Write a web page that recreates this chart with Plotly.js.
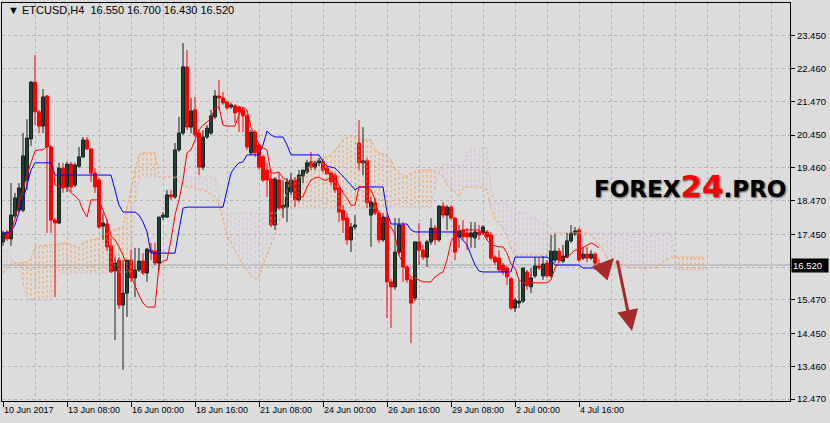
<!DOCTYPE html>
<html><head><meta charset="utf-8">
<script src="https://cdn.plot.ly/plotly-3.0.1.min.js"></script>
<style>html,body{margin:0;padding:0;background:#dcdcdc;}#chart{width:830px;height:423px;}</style>
</head><body><div id="chart"></div>
<script>
const symbol = 'ETCUSD,H4';
const tickIdx = [0,16,32,48,64,80,96,112,128,144];
const tickLabels = ['10 Jun 2017','13 Jun 08:00','16 Jun 00:00','18 Jun 16:00','21 Jun 08:00','24 Jun 00:00','26 Jun 16:00','29 Jun 08:00','2 Jul 00:00','4 Jul 16:00'];
const priceTicks = [23.45,22.46,21.47,20.45,19.46,18.47,17.45,16.46,15.47,14.45,13.46,12.47];
const priceTickText = ['23.450','22.460','21.470','20.450','19.460','18.470','17.450','','15.470','14.450','13.460','12.470'];

const openP = [17.22,17.52,17.31,18.00,18.18,18.18,19.09,20.33,22.05,21.15,
20.72,21.63,20.09,17.88,17.79,19.45,18.88,19.57,18.94,19.51,
19.79,20.30,20.03,19.30,19.09,17.70,17.76,17.10,16.34,16.67,
15.31,15.67,16.67,16.13,16.37,16.64,16.28,16.97,16.94,16.58,
17.97,17.97,18.64,18.58,20.00,20.51,22.51,20.69,21.21,20.51,
19.48,20.39,20.51,21.00,21.63,21.57,21.45,21.30,21.33,21.30,
21.21,21.03,19.91,20.54,20.15,19.79,19.39,19.12,17.73,19.09,
18.24,18.27,18.73,19.09,18.49,19.21,19.33,19.64,19.48,19.61,
19.64,19.45,19.30,19.24,18.85,18.18,17.94,17.28,17.67,20.21,
19.61,19.67,18.03,18.40,18.09,17.28,17.97,16.01,15.86,16.91,
17.73,16.46,16.07,15.52,17.22,16.97,16.76,17.22,17.64,17.28,
18.30,18.03,18.27,17.94,17.37,17.58,17.49,17.37,17.34,17.52,
17.49,17.52,17.43,16.76,16.73,16.52,16.43,16.10,15.22,15.37,
15.43,16.31,15.86,16.19,16.49,16.19,16.58,16.19,16.67,16.94,
16.64,16.76,17.25,17.46,17.58,16.73,16.85,16.73,16.85,16.55];
const highP = [17.55,17.58,19.00,18.70,19.00,20.51,20.93,22.08,22.87,21.21,
21.84,21.66,20.12,17.94,19.61,19.61,19.64,19.64,19.61,20.09,
20.39,20.39,20.06,19.45,19.15,18.09,17.88,17.34,16.76,16.76,
16.67,16.67,16.97,17.04,17.04,16.88,17.04,17.19,17.19,17.97,
18.12,18.79,18.79,20.21,21.00,23.23,23.02,21.57,21.60,20.60,
20.60,20.75,21.21,21.81,22.11,21.75,21.48,21.42,21.39,21.33,
21.27,21.09,20.60,20.60,20.21,19.85,19.61,19.33,19.18,19.33,
19.09,19.15,19.30,19.18,19.39,19.39,19.70,19.94,19.67,19.76,
19.73,19.51,19.36,19.30,18.91,18.33,18.09,17.79,18.03,20.90,
20.69,19.76,18.58,18.55,18.18,18.09,18.09,16.10,17.94,17.94,
17.82,16.52,16.13,17.22,17.79,17.13,17.28,17.94,17.73,18.33,
18.43,18.33,18.33,17.97,17.73,17.88,17.64,17.82,17.82,17.73,
17.73,17.58,17.52,16.82,16.97,16.58,16.49,16.16,15.52,16.07,
16.43,16.37,16.43,16.76,16.76,16.79,16.67,17.43,17.46,17.04,
17.13,17.49,17.73,17.67,17.64,17.07,17.07,16.97,16.91,16.70];
const lowP = [17.10,17.25,17.10,17.94,18.12,18.12,18.79,20.12,20.75,20.51,
20.51,17.49,17.49,15.55,17.76,18.70,18.73,18.73,18.88,19.45,
19.76,20.00,19.03,18.70,17.61,17.28,16.94,16.28,14.25,15.19,
13.35,14.95,16.01,15.55,16.31,16.22,16.01,16.67,16.52,16.37,
17.88,17.94,18.49,18.52,19.94,20.45,20.60,20.51,20.39,19.24,
19.39,20.33,20.45,20.93,21.21,21.36,21.21,21.24,20.81,20.54,
20.54,20.00,19.85,19.79,19.39,19.03,18.58,17.67,17.58,18.18,
17.94,17.82,18.64,18.27,18.43,19.00,19.27,19.39,19.39,19.51,
19.33,19.27,18.94,18.70,17.82,17.49,17.13,16.91,17.58,19.39,
19.24,18.24,17.07,18.03,17.19,17.22,14.92,14.62,15.77,16.82,
16.01,15.98,14.16,15.43,16.52,16.67,16.46,17.13,17.13,17.22,
17.94,17.58,17.88,16.67,17.04,17.28,16.97,17.04,17.04,17.28,
17.43,17.28,16.67,16.52,16.31,16.22,15.92,15.16,15.10,15.22,
15.37,15.77,15.67,16.13,16.37,16.07,16.13,16.13,16.58,16.61,
16.58,16.73,17.19,17.40,16.61,16.67,16.61,16.67,16.37,16.43];
const closeP = [17.49,17.31,18.03,18.55,18.85,19.82,20.36,22.05,21.15,20.72,
21.60,20.09,17.88,17.79,19.45,18.85,19.57,18.88,19.54,19.79,
20.30,20.03,19.30,18.88,17.67,17.79,17.07,16.31,16.58,15.31,
15.67,16.67,16.13,16.37,16.64,16.28,17.00,16.91,16.58,17.97,
18.03,18.64,18.58,20.00,20.51,22.51,20.69,21.18,20.45,19.48,
20.39,20.66,21.03,21.63,21.57,21.42,21.27,21.36,21.12,21.15,
21.03,20.09,20.54,19.91,19.48,19.09,19.09,17.73,19.12,18.24,
18.33,19.03,19.09,18.49,19.24,19.39,19.61,19.48,19.61,19.67,
19.39,19.27,19.03,18.79,18.12,17.88,17.28,17.67,17.73,19.61,
19.67,18.40,18.43,18.09,17.28,17.97,16.01,15.86,16.91,17.73,
16.46,16.07,15.37,17.22,16.97,16.76,17.22,17.64,17.28,18.30,
18.03,18.27,17.94,16.91,17.55,17.37,17.37,17.49,17.52,17.43,
17.67,17.37,16.73,16.61,16.37,16.31,16.16,15.22,15.46,15.43,
16.43,15.89,16.13,16.49,16.43,16.55,16.19,16.94,16.94,16.67,
16.79,17.25,17.49,17.55,16.67,16.85,16.73,16.85,16.58,16.52];

const tenkan = [17.40,17.40,17.49,17.94,18.40,18.79,19.24,19.61,19.97,20.00,
20.00,20.12,20.12,18.94,18.91,18.88,18.88,18.70,18.61,18.49,
18.18,17.97,18.49,18.49,18.49,18.18,17.88,17.40,17.28,17.07,
16.82,16.46,16.16,15.92,15.61,15.37,15.25,15.25,15.25,16.52,
16.64,16.67,17.28,18.03,18.49,19.09,19.91,20.00,20.30,20.60,
20.75,20.84,20.97,21.27,21.30,20.75,20.72,20.72,20.72,21.06,
21.30,21.21,20.69,20.45,20.15,20.06,20.00,19.30,19.30,19.33,
19.15,19.09,18.94,18.94,18.58,18.58,18.88,19.09,19.15,19.18,
19.09,19.09,19.18,19.18,18.94,18.70,18.55,18.33,18.33,18.88,
18.88,18.88,18.79,18.49,18.03,17.88,17.73,17.67,17.43,16.82,
16.58,16.31,16.16,16.13,16.07,16.01,16.01,16.01,16.16,16.25,
16.31,16.67,17.22,17.43,17.55,17.58,17.58,17.58,17.58,17.58,
17.49,17.28,17.13,17.10,17.07,17.07,16.88,16.55,16.43,16.07,
15.98,15.98,15.98,15.98,15.98,15.98,15.98,16.07,16.43,16.61,
16.73,16.76,16.88,16.97,16.97,17.04,17.10,17.19,17.13,17.04];
const kijun = [17.49,17.49,17.55,17.73,18.12,18.49,18.94,19.39,19.61,19.61,
19.61,19.61,19.61,19.24,19.24,19.24,19.24,19.24,19.24,19.24,
19.24,19.24,19.24,19.24,19.24,19.24,19.24,19.24,18.79,18.33,
18.12,18.12,18.12,18.12,18.03,17.82,17.52,16.88,16.88,16.88,
16.88,16.88,16.88,16.88,17.58,18.24,18.27,18.27,18.27,18.27,
18.27,18.27,18.27,18.27,18.27,18.27,18.79,19.30,19.48,19.61,
19.64,19.85,19.85,19.85,19.85,20.15,20.57,20.45,20.39,20.39,
20.39,20.15,19.85,19.85,19.85,19.85,19.85,19.85,19.85,19.85,
19.64,19.51,19.48,19.45,19.33,19.21,19.09,18.94,18.79,18.88,
18.88,18.88,18.88,18.88,18.88,18.88,18.12,17.76,17.76,17.76,
17.76,17.76,17.58,17.52,17.52,17.52,17.52,17.52,17.52,17.52,
17.52,17.52,17.52,17.52,17.40,17.28,17.13,16.82,16.52,16.34,
16.31,16.31,16.31,16.31,16.31,16.31,16.31,16.31,16.76,16.76,
16.76,16.76,16.76,16.76,16.76,16.76,16.76,16.67,16.52,16.52,
16.52,16.52,16.52,16.52,16.52,16.43,16.43,16.43,16.43,16.43];
const spanA = [16.28,16.43,16.55,16.58,16.58,16.61,16.61,16.73,17.07,17.10,
17.10,17.13,17.13,17.13,17.16,17.19,17.19,17.13,17.10,17.04,
17.19,17.25,17.28,17.31,17.34,17.40,17.49,17.55,17.61,17.64,
17.67,18.27,18.79,19.39,19.85,19.91,19.91,19.91,19.91,19.18,
19.18,19.18,19.18,19.15,19.03,18.94,18.88,18.88,18.85,18.79,
18.79,18.73,18.64,18.58,18.33,17.88,17.43,17.19,16.97,16.76,
16.52,16.37,16.19,16.10,16.13,16.52,16.82,17.13,17.43,17.82,
18.27,18.79,19.09,19.15,19.18,19.18,19.39,19.57,19.67,19.73,
19.79,19.79,19.85,20.00,20.15,20.30,20.39,20.45,20.39,20.33,
20.30,20.30,20.30,20.00,19.91,19.88,19.85,19.70,19.45,19.33,
19.21,19.21,19.30,19.36,19.39,19.39,19.39,19.39,19.36,19.30,
19.21,18.94,18.85,18.73,18.58,18.85,18.88,18.88,18.88,18.88,
18.85,18.79,18.27,17.88,17.79,17.64,17.37,17.04,16.82,16.82,
16.82,16.82,16.82,16.82,16.82,16.82,16.82,17.28,17.49,17.49,
17.49,17.49,17.49,17.49,17.49,17.49,17.49,17.43,17.28,17.13,
16.97,16.73,16.61,16.58,16.55,16.52,16.49,16.43,16.43,16.43,
16.43,16.43,16.43,16.43,16.49,16.61,16.67,16.73,16.76,16.76,
16.76,16.76,16.76,16.76,16.76,16.76];
const spanB = [16.97,16.97,16.73,16.52,16.49,15.92,15.55,15.46,15.46,15.46,
15.46,15.46,15.46,15.92,16.25,16.28,16.28,16.28,16.28,16.28,
16.28,16.28,16.28,16.28,16.28,16.28,16.28,16.31,16.31,16.31,
16.31,16.31,16.31,18.49,19.09,19.18,19.18,19.18,19.18,19.18,
19.18,19.18,19.18,19.18,19.18,19.18,19.18,19.18,19.18,19.18,
19.18,19.18,19.18,19.18,18.64,18.09,18.09,18.09,18.09,18.09,
18.09,18.09,18.09,18.09,18.09,18.09,18.09,18.09,18.09,18.12,
18.24,18.24,18.24,18.24,18.24,18.24,18.24,18.24,18.24,18.24,
18.24,18.24,18.24,18.24,18.24,18.24,18.24,18.24,18.24,18.24,
18.24,18.24,18.24,18.24,18.27,18.27,18.27,18.27,18.27,18.27,
18.27,18.27,18.27,18.27,18.27,18.27,18.27,18.27,18.79,19.39,
19.54,19.54,19.54,19.54,19.54,19.54,19.85,20.06,20.06,20.06,
20.06,20.06,18.79,18.40,18.40,18.40,18.40,18.24,18.12,18.12,
18.12,18.12,17.97,17.97,17.79,17.79,17.79,17.64,17.49,17.49,
17.49,17.49,17.49,17.49,17.49,17.49,17.49,17.49,17.49,17.49,
17.49,17.49,17.49,17.49,17.49,17.49,17.49,17.49,17.49,17.49,
17.49,17.49,17.49,17.49,17.49,17.49,17.49,17.49,16.61,16.37,
16.37,16.37,16.37,16.37,16.37,16.37];

// ---- build traces ----
const n = closeP.length;
const idx = closeP.map((_, i) => i);
const spanIdx = spanA.map((_, i) => i);

const upX = [], upY = [], dnX = [], dnY = [];
spanIdx.forEach(i => {
  if (spanA[i] >= spanB[i]) { upX.push(i, i, null); upY.push(spanA[i], spanB[i], null); }
  else { dnX.push(i, i, null); dnY.push(spanA[i], spanB[i], null); }
});
const bullWx = [], bullWy = [], bearWx = [], bearWy = [];
idx.forEach(i => {
  if (closeP[i] >= openP[i]) { bullWx.push(i, i, null); bullWy.push(lowP[i], highP[i], null); }
  else { bearWx.push(i, i, null); bearWy.push(lowP[i], highP[i], null); }
});
const bodyBase = idx.map(i => Math.min(openP[i], closeP[i]));
const bodyH = idx.map(i => Math.max(Math.abs(closeP[i] - openP[i]), 0.02));
const bull = idx.map(i => closeP[i] >= openP[i]);
const BULL_FILL = '#2f5a4e', BULL_LINE = '#16241f', BEAR = '#ff0000';

const traces = [
  {type:'scatter', mode:'lines', x:upX, y:upY, line:{color:'#f4a460', width:1, dash:'3px,2px'}, hoverinfo:'skip'},
  {type:'scatter', mode:'lines', x:dnX, y:dnY, line:{color:'#d8bfd8', width:1, dash:'3px,2px'}, hoverinfo:'skip'},
  {type:'scatter', mode:'lines', x:spanIdx, y:spanA, line:{color:'#f4a460', width:1, dash:'3px,2px'}},
  {type:'scatter', mode:'lines', x:spanIdx, y:spanB, line:{color:'#d8bfd8', width:1, dash:'3px,2px'}},
  {type:'scatter', mode:'lines', x:bullWx, y:bullWy, line:{color:BULL_LINE, width:1}},
  {type:'scatter', mode:'lines', x:bearWx, y:bearWy, line:{color:BEAR, width:1}},
  {type:'bar', x:idx, y:bodyH, base:bodyBase, width:0.75,
   marker:{color:bull.map(b => b ? BULL_FILL : BEAR), line:{color:bull.map(b => b ? BULL_LINE : BEAR), width:1}}},
  {type:'scatter', mode:'lines', x:idx, y:kijun, line:{color:'#0000ff', width:1}},
  {type:'scatter', mode:'lines', x:idx, y:tenkan, line:{color:'#ff0000', width:1}}
];

const last = n - 1;
const fmt = v => v.toFixed(3);
const titleText = '\u25BC\u00a0' + symbol + '\u00a0\u00a0' + [openP[last], highP[last], lowP[last], closeP[last]].map(fmt).join('\u00a0');
const GRID = '#b4b4b4';
const XFONT = {family:'Liberation Sans, Arial, sans-serif', size:9, color:'#000'};
const YFONT = {family:'Liberation Sans, Arial, sans-serif', size:9.5, color:'#000'};

const layout = {
  width:830, height:423,
  margin:{l:2, r:40, t:3, b:22},
  paper_bgcolor:'#dcdcdc', plot_bgcolor:'#dcdcdc',
  showlegend:false, hovermode:false, bargap:0,
  xaxis:{range:[-0.25, 196.75], tickmode:'array', tickvals:tickIdx, ticktext:tickLabels, tickangle:0,
    ticks:'outside', ticklen:5, tickcolor:'#000', ticklabelposition:'outside right',
    tickfont:XFONT, showgrid:true, gridcolor:GRID, griddash:'3px,3px', gridwidth:1,
    minor:{tickmode:'linear', tick0:0, dtick:8, showgrid:true, gridcolor:GRID, griddash:'3px,3px', ticks:''},
    showline:true, linecolor:'#000', linewidth:1, mirror:true, zeroline:false, fixedrange:true},
  yaxis:{side:'right', range:[12.41, 24.441], tickmode:'array', tickvals:priceTicks, ticktext:priceTickText,
    ticks:'outside', ticklen:4, tickcolor:'#000', tickfont:YFONT,
    showgrid:true, gridcolor:GRID, griddash:'3px,3px', gridwidth:1,
    showline:true, linecolor:'#000', linewidth:1, mirror:true, zeroline:false, fixedrange:true},
  shapes:[{type:'line', xref:'paper', x0:0, x1:1, yref:'y', y0:closeP[last], y1:closeP[last],
    line:{color:'#a8a8a8', width:1}, layer:'below'}],
  annotations:[
    {xref:'paper', yref:'paper', x:0.005, y:0.982, xanchor:'left', yanchor:'middle', showarrow:false,
     text:titleText, font:{family:'Liberation Sans, Arial, sans-serif', size:11, color:'#000'}},
    {xref:'paper', yref:'y', x:1, y:closeP[last], xanchor:'left', yanchor:'middle', xshift:1, showarrow:false,
     text:fmt(closeP[last]), bgcolor:'#000', font:{family:'Liberation Sans, Arial, sans-serif', size:9.5, color:'#fff'},
     width:34, height:11, align:'left', borderpad:1},
    {xref:'paper', yref:'paper', x:0.7487, y:0.54, xanchor:'left', yanchor:'middle', showarrow:false,
     text:'<b>FOREX<span style="color:#ff0000;font-size:31px">24</span>.PRO</b>',
     font:{family:'DejaVu Sans, sans-serif', size:23, color:'#000', shadow:'1px 1px 2px rgba(0,0,0,0.6)'}},
    {xref:'paper', yref:'paper', x:0.7766, y:0.3593, ax:-11, ay:12, showarrow:true, arrowhead:2, arrowsize:1.4,
     arrowwidth:3, arrowcolor:'#a52a2a', text:''},
    {xref:'paper', yref:'paper', x:0.7995, y:0.1759, ax:-15, ay:-72, showarrow:true, arrowhead:2, arrowsize:1.4,
     arrowwidth:3, arrowcolor:'#a52a2a', text:''}
  ]
};

Plotly.newPlot('chart', traces, layout, {displayModeBar:false, staticPlot:true});
</script>
</body></html>
